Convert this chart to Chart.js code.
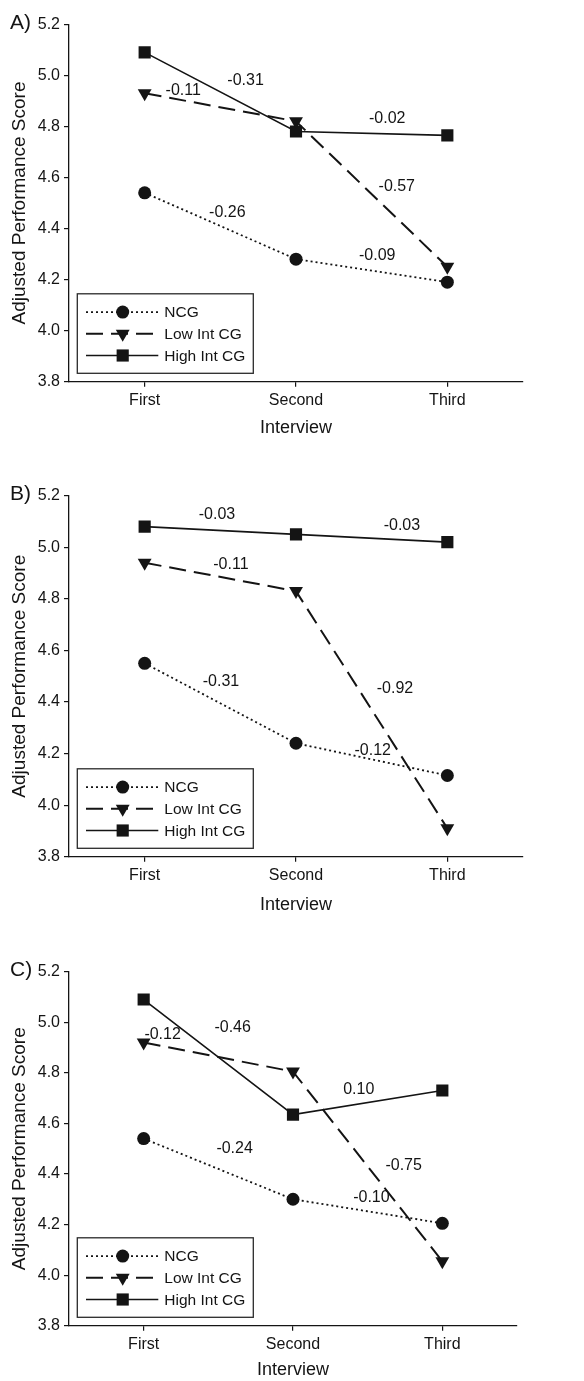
<!DOCTYPE html>
<html>
<head>
<meta charset="utf-8">
<script src="https://cdn.jsdelivr.net/npm/chart.js@4.4.1/dist/chart.umd.min.js"></script>
<style>
html,body{margin:0;padding:0;background:#fff;}
body{width:584px;height:1381px;position:relative;overflow:hidden;}
canvas{position:absolute;left:0;}
</style>
</head>
<body>
<canvas id="cA" width="584" height="445" style="top:0px;width:584px;height:445px"></canvas>
<canvas id="cB" width="584" height="475" style="top:445px;width:584px;height:475px"></canvas>
<canvas id="cC" width="584" height="461" style="top:920px;width:584px;height:461px"></canvas>
<script>
// ---------------- DATA ----------------
const interviews = ['First', 'Second', 'Third'];
const seriesNames = ['NCG', 'Low Int CG', 'High Int CG'];
const panelLetters = ['A)', 'B)', 'C)'];
const yMin = 3.8, yMax = 5.2, yStep = 0.2;
const yTitle = 'Adjusted Performance Score';
const xTitle = 'Interview';

// Panel A
const ncgA  = [4.54, 4.28, 4.19];
const lowA  = [4.93, 4.82, 4.25];
const highA = [5.09, 4.78, 4.765];
const changeLabelsA = ['-0.26', '-0.09', '-0.11', '-0.57', '-0.31', '-0.02'];

// Panel B
const ncgB  = [4.55, 4.24, 4.115];
const lowB  = [4.94, 4.83, 3.91];
const highB = [5.08, 5.05, 5.02];
const changeLabelsB = ['-0.31', '-0.12', '-0.11', '-0.92', '-0.03', '-0.03'];

// Panel C
const ncgC  = [4.54, 4.30, 4.205];
const lowC  = [4.92, 4.805, 4.055];
const highC = [5.09, 4.635, 4.73];
const changeLabelsC = ['-0.24', '-0.10', '-0.12', '-0.75', '-0.46', '0.10'];

// ---------------- LAYOUT / STYLE ----------------
// label anchor positions in (category index, value) space
const labelPosA = [[0.546, 4.464], [1.537, 4.295], [0.255, 4.940], [1.666, 4.566], [0.667, 4.978], [1.603, 4.829]];
const labelPosB = [[0.504, 4.479], [1.507, 4.211], [0.570, 4.931], [1.654, 4.453], [0.478, 5.125], [1.700, 5.086]];
const labelPosC = [[0.609, 4.502], [1.525, 4.307], [0.127, 4.952], [1.741, 4.432], [0.596, 4.980], [1.440, 4.735]];

const INK = '#141414';
const FONT = "'Liberation Sans', Arial, Helvetica, sans-serif";

const seriesStyle = [
  { dash: [2, 3],  width: 1.8, point: 'circle',   radius: 6.5, rotation: 0 },
  { dash: [17, 8], width: 2.0, point: 'triangle', radius: 8,   rotation: 180 },
  { dash: [],      width: 1.6, point: 'rect',     radius: 8.6, rotation: 0 }
];

const panels = [
  { id: 'cA', letter: panelLetters[0], values: [ncgA, lowA, highA], labels: changeLabelsA, pos: labelPosA,
    box: { canvasTop: 0,   h: 445, chartTop: 24.3,  chartBottom: 381.7, right: 523, titleY: 428 } },
  { id: 'cB', letter: panelLetters[1], values: [ncgB, lowB, highB], labels: changeLabelsB, pos: labelPosB,
    box: { canvasTop: 445, h: 475, chartTop: 495.7, chartBottom: 856.7, right: 523, titleY: 905 } },
  { id: 'cC', letter: panelLetters[2], values: [ncgC, lowC, highC], labels: changeLabelsC, pos: labelPosC,
    box: { canvasTop: 920, h: 461, chartTop: 971.7, chartBottom: 1326, right: 517, titleY: 1370.5 } }
];

function drawMarker(ctx, style, x, y) {
  const r = style.radius;
  ctx.save();
  ctx.fillStyle = INK;
  ctx.beginPath();
  if (style.point === 'circle') {
    ctx.arc(x, y, r, 0, Math.PI * 2);
  } else if (style.point === 'triangle') {
    const rad = style.rotation * Math.PI / 180;
    for (let k = 0; k < 3; k++) {
      const a = rad + k * 2 * Math.PI / 3;
      const px = x + Math.sin(a) * r, py = y - Math.cos(a) * r;
      if (k === 0) ctx.moveTo(px, py); else ctx.lineTo(px, py);
    }
    ctx.closePath();
  } else {
    const s = Math.SQRT1_2 * r;
    ctx.rect(x - s, y - s, 2 * s, 2 * s);
  }
  ctx.fill();
  ctx.restore();
}

const decorPlugin = {
  id: 'decor',
  afterDatasetsDraw(chart, args, opts) {
    const { ctx, chartArea, scales } = chart;
    const p = opts.panel;
    ctx.save();
    // change annotations
    ctx.fillStyle = INK;
    ctx.font = '16px ' + FONT;
    ctx.textAlign = 'center';
    ctx.textBaseline = 'middle';
    p.labels.forEach((t, i) => {
      const x = scales.x.getPixelForValue(p.pos[i][0]);
      const y = scales.y.getPixelForValue(p.pos[i][1]);
      ctx.fillText(t, x, y);
    });
    // panel letter
    ctx.font = '21px ' + FONT;
    ctx.textAlign = 'left';
    ctx.fillText(p.letter, 10, chartArea.top - 1);
    // legend
    const bw = 176, bh = 79.5;
    const bx = chartArea.left + 8.3, by = chartArea.bottom - 8.4 - bh;
    ctx.fillStyle = '#fff';
    ctx.fillRect(bx, by, bw, bh);
    ctx.strokeStyle = '#2a2a2a';
    ctx.lineWidth = 1.3;
    ctx.strokeRect(bx, by, bw, bh);
    ctx.font = '15.5px ' + FONT;
    seriesNames.forEach((name, i) => {
      const st = seriesStyle[i];
      const ry = by + 18.3 + i * 21.7;
      ctx.save();
      ctx.strokeStyle = INK;
      ctx.lineWidth = st.width;
      ctx.setLineDash(st.dash);
      ctx.beginPath();
      ctx.moveTo(bx + 8.7, ry);
      ctx.lineTo(bx + 81, ry);
      ctx.stroke();
      ctx.restore();
      drawMarker(ctx, st, bx + 45.4, ry);
      ctx.fillStyle = INK;
      ctx.textAlign = 'left';
      ctx.textBaseline = 'middle';
      ctx.fillText(name, bx + 87, ry + 1);
    });
    ctx.restore();
  }
};

panels.forEach(p => {
  const b = p.box;
  const titleLH = 18 * 1.2;
  const padTop = b.chartTop - b.canvasTop;
  const xh = (b.titleY + titleLH / 2) - b.chartBottom;
  const padBottom = Math.max(0, b.canvasTop + b.h - (b.titleY + titleLH / 2));
  const datasets = seriesNames.map((name, i) => {
    const st = seriesStyle[i];
    return {
      label: name,
      data: p.values[i],
      borderColor: INK,
      backgroundColor: INK,
      borderWidth: st.width,
      borderDash: st.dash,
      pointStyle: st.point,
      pointRadius: st.radius,
      pointRotation: st.rotation,
      pointBackgroundColor: INK,
      pointBorderColor: INK,
      pointBorderWidth: 0,
      tension: 0,
      fill: false
    };
  });
  new Chart(document.getElementById(p.id), {
    type: 'line',
    data: { labels: interviews, datasets },
    options: {
      responsive: false,
      animation: false,
      devicePixelRatio: 1,
      layout: { padding: { top: padTop, right: 584 - b.right, bottom: padBottom, left: 0 } },
      plugins: {
        legend: { display: false },
        tooltip: { enabled: false },
        decor: { panel: p }
      },
      scales: {
        x: {
          type: 'category',
          offset: true,
          afterFit: s => { s.height = xh; },
          grid: { display: true, drawOnChartArea: false, drawTicks: true, tickLength: 5, color: INK, offset: false, lineWidth: 1.2 },
          border: { display: true, color: INK, width: 1.3 },
          ticks: { color: INK, font: { family: FONT, size: 16 }, padding: 4 },
          title: { display: true, text: xTitle, color: INK, font: { family: FONT, size: 18 }, padding: { top: 0, bottom: 0 } }
        },
        y: {
          type: 'linear',
          min: yMin, max: yMax,
          afterFit: s => { s.width = 69; },
          grid: { display: true, drawOnChartArea: false, drawTicks: true, tickLength: 5, color: INK, lineWidth: 1.2 },
          border: { display: true, color: INK, width: 1.3 },
          ticks: { stepSize: yStep, color: INK, font: { family: FONT, size: 16 }, padding: 4,
                   callback: v => Number(v).toFixed(1) },
          title: { display: true, text: yTitle, color: INK, font: { family: FONT, size: 19 }, padding: { top: 8.5, bottom: 0 } }
        }
      }
    },
    plugins: [decorPlugin]
  });
});
</script>
</body>
</html>
